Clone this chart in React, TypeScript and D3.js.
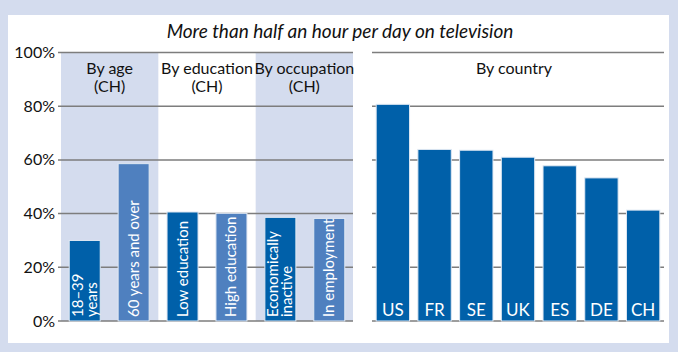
import * as d3 from 'd3';

const groupNames = ['By age', 'By education', 'By occupation'];
const leftLabels = [['18–39', 'years'], ['60  years and over'], ['Low education'], ['High education'], ['Economically', 'inactive'], ['In employment']];
const leftValues = [30, 58.6, 40.6, 40.1, 38.6, 38.2];
const leftDark = [true, false, true, false, true, false];
const countries = ['US', 'FR', 'SE', 'UK', 'ES', 'DE', 'CH'];
const countryValues = [80.7, 63.9, 63.6, 61.0, 57.8, 53.3, 41.3];
const yTicks = [0, 20, 40, 60, 80, 100];

const W = 678;
const H = 352;
const FONT = 'Lato, "Open Sans", sans-serif';
const DARK = '#0060a9';
const LIGHT = '#4f80bf';
const BAND = '#d4dcee';

export default function App() {
  const y = d3.scaleLinear().domain([0, 100]).range([321, 52.5]);
  const xLeft = d3.scaleBand<number>().domain(d3.range(leftValues.length)).range([61, 353]).paddingInner(0.366).paddingOuter(0.168);
  const xGroup = d3.scaleBand<number>().domain([0, 1, 2]).range([61, 353]);
  const xRight = d3.scaleBand<string>().domain(countries).range([372, 664]).paddingInner(0.2).paddingOuter(0.1);

  return (
    <svg width={W} height={H} style={{ position: 'absolute', left: 0, top: 0 }}>
      <rect x={0} y={0} width={W} height={H} fill={BAND} />
      <rect x={8} y={15} width={661} height={328} fill="#fff" />
      <text x={340} y={38} textAnchor="middle" fontFamily={FONT} fontStyle="italic" fontSize={19} fill="#111">
        More than half an hour per day on television
      </text>

      {[0, 2].map((g) => (
        <rect key={g} x={xGroup(g)} y={y(100)} width={xGroup.bandwidth()} height={y(0) - y(100)} fill={BAND} />
      ))}

      {yTicks.map((t) => (
        <g key={t}>
          <line x1={58} x2={353} y1={y(t)} y2={y(t)} stroke="#7d7d7d" strokeWidth={1.5} />
          <line x1={372} x2={664} y1={y(t)} y2={y(t)} stroke="#7d7d7d" strokeWidth={1.5} />
          <text x={55} y={y(t) + 5.5} textAnchor="end" fontFamily={FONT} fontSize={16} fill="#111">
            {t}%
          </text>
        </g>
      ))}

      {groupNames.map((name, g) => (
        <text key={name} x={xGroup(g)! + xGroup.bandwidth() / 2} textAnchor="middle" fontFamily={FONT} fontSize={16} fill="#111">
          <tspan x={xGroup(g)! + xGroup.bandwidth() / 2} y={74}>{name}</tspan>
          <tspan x={xGroup(g)! + xGroup.bandwidth() / 2} y={92}>(CH)</tspan>
        </text>
      ))}
      <text x={514} y={74} textAnchor="middle" fontFamily={FONT} fontSize={16} fill="#111">
        By country
      </text>

      {leftValues.map((v, i) => {
        const x0 = xLeft(i)!;
        const bw = xLeft.bandwidth();
        const cx = x0 + bw / 2;
        const lines = leftLabels[i];
        return (
          <g key={i}>
            <rect x={x0} y={y(v)} width={bw} height={y(0) - y(v)} fill={leftDark[i] ? DARK : LIGHT} stroke="#dfe8f3" strokeWidth={1} />
            <text transform={`translate(${cx},${y(0) - 4}) rotate(-90)`} fontFamily={FONT} fontSize={15} fill="#fff">
              {lines.map((l, j) => (
                <tspan key={j} x={0} y={(j - (lines.length - 1) / 2) * 14 + 5}>
                  {l}
                </tspan>
              ))}
            </text>
          </g>
        );
      })}

      {countries.map((c, i) => {
        const x0 = xRight(c)!;
        const bw = xRight.bandwidth();
        return (
          <g key={c}>
            <rect x={x0} y={y(countryValues[i])} width={bw} height={y(0) - y(countryValues[i])} fill={DARK} stroke="#dfe8f3" strokeWidth={1} />
            <text x={x0 + bw / 2} y={316} textAnchor="middle" fontFamily={FONT} fontSize={17} fill="#fff">
              {c}
            </text>
          </g>
        );
      })}
    </svg>
  );
}
